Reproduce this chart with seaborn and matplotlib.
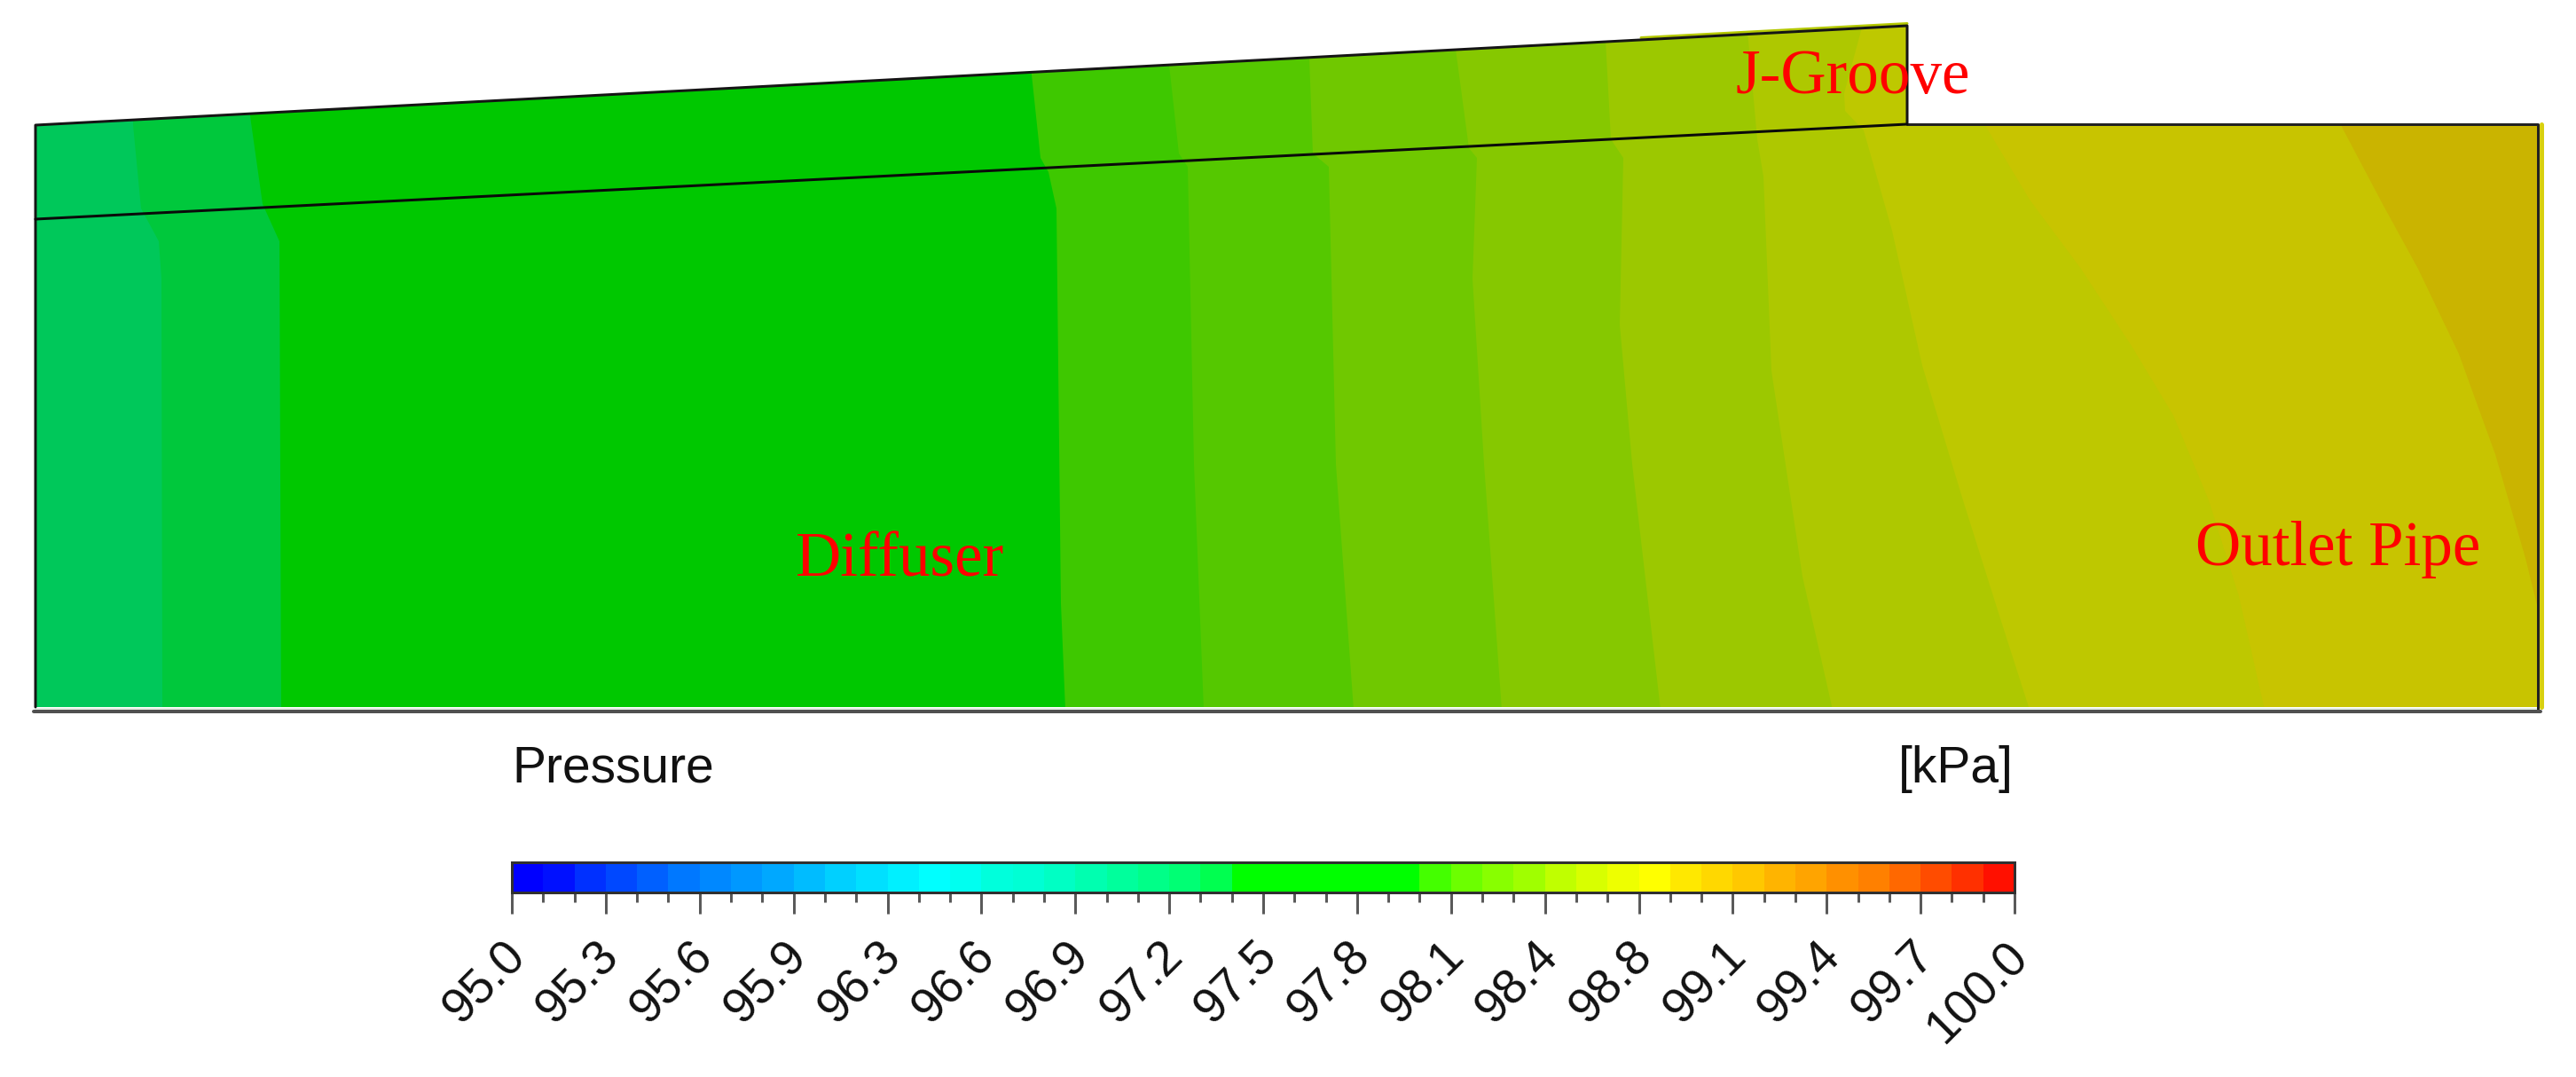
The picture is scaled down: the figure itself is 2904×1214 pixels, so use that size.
"""Pressure contour on the diffuser, J-groove and outlet pipe section."""
import matplotlib
matplotlib.use("Agg")
import matplotlib.pyplot as plt
import numpy as np
import seaborn as sns
from matplotlib.colors import ListedColormap
from matplotlib.patches import Polygon
from matplotlib.transforms import ScaledTranslation

# legend cells, lowest pressure first
LEGEND_COLORS = [
    "#0000FF", "#0010FF", "#0030FF", "#0048FF", "#0060FF", "#0078FF",
    "#0088FF", "#0098FF", "#00A8FF", "#00BCFF", "#00D0FF", "#00E0FF",
    "#00F0FF", "#00FFFF", "#00FFF0", "#00FFDC", "#00FFD4", "#00FFC4",
    "#00FFB0", "#00FF9C", "#00FF88", "#00FF74", "#00FF50", "#00FF00",
    "#00FF00", "#00FF00", "#00FF00", "#00FF00", "#00FF00", "#44FF00",
    "#6CFF00", "#88FF00", "#A0FF00", "#C0FF00", "#D8FF00", "#EEFF00",
    "#FFFF00", "#FFE800", "#FFD800", "#FFC800", "#FFB400", "#FFA400",
    "#FF9000", "#FF8000", "#FF6800", "#FF4C00", "#FF3000", "#FF1000",
]
TICK_LABELS = ["95.0", "95.3", "95.6", "95.9", "96.3", "96.6", "96.9", "97.2",
               "97.5", "97.8", "98.1", "98.4", "98.8", "99.1", "99.4", "99.7",
               "100.0"]

# contour bands, left to right
BAND_COLORS = ["#00C85A", "#00C83C", "#00C800", "#3EC800", "#55C800", "#70C800",
               "#86C800", "#9CC800", "#AEC800", "#BEC800", "#C8C400", "#CAB400"]

BAND_EDGES = [
    [(150, 0), (150, 141), (159, 235), (179, 272), (182, 314), (183, 800)],
    [(282, 0), (282, 131), (296, 230), (315, 272), (317, 800)],
    [(1163, 0), (1163, 84), (1173, 178), (1182, 194), (1191, 235), (1196, 680), (1201, 800)],
    [(1318, 0), (1318, 73), (1329, 173), (1339, 188), (1346, 523), (1357, 800)],
    [(1476, 0), (1476, 65), (1480, 173), (1498, 188), (1506, 523), (1526, 800)],
    [(1640, 0), (1640, 48), (1656, 167), (1665, 178), (1660, 314), (1673, 523), (1693, 800)],
    [(1810, 0), (1810, 45), (1816, 157), (1830, 178), (1826, 366), (1840, 523), (1872, 800)],
    [(1970, 0), (1970, 35), (1981, 157), (1988, 199), (1997, 418), (2032, 650), (2066, 800)],
    [(2099, 0), (2099, 31), (2079, 105), (2080, 125), (2101, 147), (2133, 260), (2167, 412),
     (2213, 564), (2254, 694), (2288, 800)],
    [(2239, 0), (2239, 143), (2288, 225), (2346, 303), (2403, 390), (2450, 468), (2490, 564),
     (2524, 672), (2553, 800)],
    [(2640, 0), (2640, 143), (2686, 230), (2726, 303), (2772, 399), (2813, 512), (2847, 629),
     (2862, 690), (2862, 800)],
]

DOMAIN = [(40, 141), (2150, 29), (2150, 140), (2861, 140), (2861, 797), (40, 797)]
INTERFACE = [(40, 247), (2150, 140)]

REGION_LABELS = [("Diffuser", 897, 650), ("J-Groove", 1956, 105), ("Outlet Pipe", 2475, 637)]

W, H = 2904, 1214
PX = 72 / 100  # points per pixel at dpi 100

sns.set_theme(style="white")
plt.rcParams["font.family"] = ["Liberation Sans", "DejaVu Sans"]

fig = plt.figure(figsize=(W / 100, H / 100), dpi=100)
ax = fig.add_axes([0, 0, 1, 1])
ax.set_xlim(0, W)
ax.set_ylim(H, 0)
ax.axis("off")

# bands: each one is painted through to the right, the next one covers it
clip = Polygon(DOMAIN, closed=True, transform=ax.transData)
for i, color in enumerate(BAND_COLORS):
    edge = [(0, 0), (0, 800)] if i == 0 else BAND_EDGES[i - 1]
    pts = np.array(edge + [(W, 800), (W, 0)])
    patch = ax.fill(pts[:, 0], pts[:, 1], color=color, lw=0, zorder=1)[0]
    patch.set_clip_path(clip)

# strips outside the outline
ax.plot([2865, 2865], [140, 797], color="#D8D010", lw=5 * PX, zorder=1.5)
ax.plot([40, 2861], [798.5, 798.5], color="#E4EEE4", lw=3 * PX, zorder=1.5)
ax.plot([1850, 2150], [42.5, 26.5], color="#B4C800", lw=3 * PX, zorder=1.5)

# outline
dom = np.array(DOMAIN)
ax.plot(dom[[5, 0, 1, 2], 0], dom[[5, 0, 1, 2], 1], color="#151515", lw=3 * PX, zorder=2)
ax.plot(dom[[2, 3, 4], 0], [140, 140, 802], color="#222222", lw=3 * PX, zorder=2)
ax.plot([38, 2864], [802, 802], color="#505050", lw=4 * PX, zorder=2)
ax.plot(*np.array(INTERFACE).T, color="#0A0A0A", lw=3 * PX, zorder=2)

for text, x, y in REGION_LABELS:
    ax.text(x, y, text, color="#FF0000", fontsize=71 * PX, ha="left",
            va="baseline", family="Liberation Serif", zorder=3)

ax.text(577, 882, "Pressure", color="#111111", fontsize=57 * PX, ha="left", va="baseline")
ax.text(2270, 882, "[kPa]", color="#111111", fontsize=57 * PX, ha="right", va="baseline")

# legend bar
n_cells = len(LEGEND_COLORS)
cax = fig.add_axes([577 / W, 1 - 1006 / H, (2271 - 577) / W, 34 / H])
sns.heatmap(np.arange(n_cells).reshape(1, -1), cmap=ListedColormap(LEGEND_COLORS),
            ax=cax, cbar=False, xticklabels=False, yticklabels=False)
cax.set_xticks(np.arange(0, n_cells + 1, 3))
cax.set_xticks(np.arange(0, n_cells + 1), minor=True)
cax.set_xticklabels(TICK_LABELS, rotation=45, ha="right", va="top",
                    rotation_mode="anchor", fontsize=55 * PX, color="#111111")
cax.tick_params(axis="x", which="major", bottom=True, length=24 * PX,
                width=3 * PX, color="#5A5A5A", pad=22 * PX)
cax.tick_params(axis="x", which="minor", bottom=True, length=11 * PX,
                width=3 * PX, color="#5A5A5A")
cax.tick_params(axis="y", left=False)
nudge = ScaledTranslation(-11 * PX / 72, 0, fig.dpi_scale_trans)
for label in cax.get_xticklabels():
    label.set_transform(label.get_transform() + nudge)
for side, spine in cax.spines.items():
    spine.set_visible(True)
    spine.set_color("#303030")
    spine.set_linewidth(3 * PX)

fig.savefig("out.png", dpi=100)
plt.close(fig)
